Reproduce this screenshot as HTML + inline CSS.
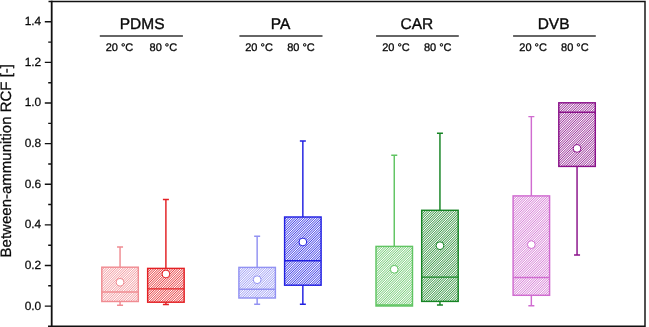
<!DOCTYPE html>
<html><head><meta charset="utf-8"><title>Between-ammunition RCF</title>
<style>html,body{margin:0;padding:0;background:#fff}svg{display:block}text{font-family:"Liberation Sans",Arial,sans-serif;fill:#0a0a0a;stroke:#0a0a0a;stroke-width:0.25px;text-rendering:geometricPrecision}</style></head>
<body>
<svg width="649" height="327" viewBox="0 0 649 327">
<rect width="649" height="327" fill="#fff"/>
<defs>
<linearGradient id="h0" gradientUnits="userSpaceOnUse" x1="0" y1="0" x2="1.2" y2="1.2" spreadMethod="repeat"><stop offset="0" stop-color="#f3a3a8"/><stop offset="0.5" stop-color="#fff"/><stop offset="1" stop-color="#f3a3a8"/></linearGradient>
<linearGradient id="h1" gradientUnits="userSpaceOnUse" x1="0" y1="0" x2="1.2" y2="1.2" spreadMethod="repeat"><stop offset="0" stop-color="#e94d50"/><stop offset="0.5" stop-color="#fff"/><stop offset="1" stop-color="#e94d50"/></linearGradient>
<linearGradient id="h2" gradientUnits="userSpaceOnUse" x1="0" y1="0" x2="1.2" y2="1.2" spreadMethod="repeat"><stop offset="0" stop-color="#a8a8f5"/><stop offset="0.5" stop-color="#fff"/><stop offset="1" stop-color="#a8a8f5"/></linearGradient>
<linearGradient id="h3" gradientUnits="userSpaceOnUse" x1="0" y1="0" x2="1.2" y2="1.2" spreadMethod="repeat"><stop offset="0" stop-color="#4e4de8"/><stop offset="0.5" stop-color="#fff"/><stop offset="1" stop-color="#4e4de8"/></linearGradient>
<linearGradient id="h4" gradientUnits="userSpaceOnUse" x1="0" y1="0" x2="1.2" y2="1.2" spreadMethod="repeat"><stop offset="0" stop-color="#80d081"/><stop offset="0.5" stop-color="#fff"/><stop offset="1" stop-color="#80d081"/></linearGradient>
<linearGradient id="h5" gradientUnits="userSpaceOnUse" x1="0" y1="0" x2="1.2" y2="1.2" spreadMethod="repeat"><stop offset="0" stop-color="#459d50"/><stop offset="0.5" stop-color="#fff"/><stop offset="1" stop-color="#459d50"/></linearGradient>
<linearGradient id="h6" gradientUnits="userSpaceOnUse" x1="0" y1="0" x2="1.2" y2="1.2" spreadMethod="repeat"><stop offset="0" stop-color="#d989d9"/><stop offset="0.5" stop-color="#fff"/><stop offset="1" stop-color="#d989d9"/></linearGradient>
<linearGradient id="h7" gradientUnits="userSpaceOnUse" x1="0" y1="0" x2="1.2" y2="1.2" spreadMethod="repeat"><stop offset="0" stop-color="#a141a1"/><stop offset="0.5" stop-color="#fff"/><stop offset="1" stop-color="#a141a1"/></linearGradient>
</defs>
<g stroke="#f08c92" stroke-width="1.45" fill="none"><path d="M120.05,267.20 V246.90 M117.05,246.90 H123.05"/><path d="M120.05,301.50 V305.30 M117.05,305.30 H123.05"/><rect x="101.80" y="267.20" width="36.50" height="34.30" fill="url(#h0)" stroke-width="1.45"/><path d="M101.80,292.00 H138.30" stroke-width="1.4"/><circle cx="120.05" cy="282.30" r="3.9" fill="#fff" stroke-width="1"/></g>
<g stroke="#e32024" stroke-width="1.45" fill="none"><path d="M165.90,268.40 V199.40 M162.90,199.40 H168.90"/><path d="M165.90,302.20 V304.40 M162.90,304.40 H168.90"/><rect x="147.65" y="268.40" width="36.50" height="33.80" fill="url(#h1)" stroke-width="1.45"/><path d="M147.65,288.90 H184.15" stroke-width="1.4"/><circle cx="165.90" cy="274.00" r="3.9" fill="#fff" stroke-width="1"/></g>
<g stroke="#9292f2" stroke-width="1.45" fill="none"><path d="M257.15,267.40 V236.20 M254.15,236.20 H260.15"/><path d="M257.15,298.00 V304.20 M254.15,304.20 H260.15"/><rect x="238.90" y="267.40" width="36.50" height="30.60" fill="url(#h2)" stroke-width="1.45"/><path d="M238.90,289.20 H275.40" stroke-width="1.4"/><circle cx="257.15" cy="279.70" r="3.9" fill="#fff" stroke-width="1"/></g>
<g stroke="#2220e2" stroke-width="1.45" fill="none"><path d="M302.85,217.00 V141.00 M299.85,141.00 H305.85"/><path d="M302.85,285.20 V304.20 M299.85,304.20 H305.85"/><rect x="284.60" y="217.00" width="36.50" height="68.20" fill="url(#h3)" stroke-width="1.45"/><path d="M284.60,260.70 H321.10" stroke-width="1.4"/><circle cx="302.85" cy="242.00" r="3.9" fill="#fff" stroke-width="1"/></g>
<g stroke="#60c462" stroke-width="1.45" fill="none"><path d="M394.25,246.40 V155.20 M391.25,155.20 H397.25"/><rect x="376.00" y="246.40" width="36.50" height="59.60" fill="url(#h4)" stroke-width="1.45"/><path d="M376.00,305.00 H412.50" stroke-width="1.4"/><circle cx="394.25" cy="269.30" r="3.9" fill="#fff" stroke-width="1"/></g>
<g stroke="#168424" stroke-width="1.45" fill="none"><path d="M439.95,210.30 V133.30 M436.95,133.30 H442.95"/><path d="M439.95,301.40 V305.00 M436.95,305.00 H442.95"/><rect x="421.70" y="210.30" width="36.50" height="91.10" fill="url(#h5)" stroke-width="1.45"/><path d="M421.70,277.10 H458.20" stroke-width="1.4"/><circle cx="439.95" cy="245.70" r="3.9" fill="#fff" stroke-width="1"/></g>
<g stroke="#d06cd0" stroke-width="1.45" fill="none"><path d="M531.35,195.90 V116.60 M528.35,116.60 H534.35"/><path d="M531.35,295.30 V305.80 M528.35,305.80 H534.35"/><rect x="513.10" y="195.90" width="36.50" height="99.40" fill="url(#h6)" stroke-width="1.45"/><path d="M513.10,277.50 H549.60" stroke-width="1.4"/><circle cx="531.35" cy="244.60" r="3.9" fill="#fff" stroke-width="1"/></g>
<g stroke="#8a128a" stroke-width="1.45" fill="none"><path d="M577.05,166.40 V254.90 M574.05,254.90 H580.05"/><rect x="558.80" y="102.80" width="36.50" height="63.60" fill="url(#h7)" stroke-width="1.45"/><path d="M558.80,112.20 H595.30" stroke-width="1.4"/><circle cx="577.05" cy="148.40" r="3.9" fill="#fff" stroke-width="1"/></g>
<g stroke="#111" stroke-width="1.6" fill="none"><path d="M48.5,1.45 H645.75 M645,1.45 V327 M48,326.3 H645.75" stroke-width="1.45"/><path d="M51.7,0.7 V327" stroke-width="1.8"/><path d="M44.8,306.10 H51.6 M48.2,285.79 H51.6 M44.8,265.49 H51.6 M48.2,245.18 H51.6 M44.8,224.87 H51.6 M48.2,204.57 H51.6 M44.8,184.26 H51.6 M48.2,163.95 H51.6 M44.8,143.64 H51.6 M48.2,123.34 H51.6 M44.8,103.03 H51.6 M48.2,82.72 H51.6 M44.8,62.42 H51.6 M48.2,42.11 H51.6 M44.8,21.80 H51.6" stroke-width="1.4"/></g>
<text x="41.2" y="309.55" font-size="11.9" text-anchor="end">0.0</text>
<text x="41.2" y="268.94" font-size="11.9" text-anchor="end">0.2</text>
<text x="41.2" y="228.32" font-size="11.9" text-anchor="end">0.4</text>
<text x="41.2" y="187.71" font-size="11.9" text-anchor="end">0.6</text>
<text x="41.2" y="147.09" font-size="11.9" text-anchor="end">0.8</text>
<text x="41.2" y="106.48" font-size="11.9" text-anchor="end">1.0</text>
<text x="41.2" y="65.87" font-size="11.9" text-anchor="end">1.2</text>
<text x="41.2" y="25.25" font-size="11.9" text-anchor="end">1.4</text>
<text transform="translate(10.5,160.7) rotate(-90)" font-size="15" text-anchor="middle">Between-ammunition RCF [-]</text>
<text x="142.10" y="28.5" style="font-size:15.5px;stroke-width:0.35px" text-anchor="middle">PDMS</text>
<path d="M99.80,36 H182.90" stroke="#333" stroke-width="1.4"/>
<text x="119.45" y="50.5" style="font-size:11px;stroke-width:0.3px" text-anchor="middle">20 °C</text>
<text x="163.40" y="50.5" style="font-size:11px;stroke-width:0.3px" text-anchor="middle">80 °C</text>
<text x="280.55" y="28.5" style="font-size:15.5px;stroke-width:0.35px" text-anchor="middle">PA</text>
<path d="M239.40,36 H322.50" stroke="#333" stroke-width="1.4"/>
<text x="259.05" y="50.5" style="font-size:11px;stroke-width:0.3px" text-anchor="middle">20 °C</text>
<text x="300.95" y="50.5" style="font-size:11px;stroke-width:0.3px" text-anchor="middle">80 °C</text>
<text x="416.90" y="28.5" style="font-size:15.5px;stroke-width:0.35px" text-anchor="middle">CAR</text>
<path d="M376.10,36 H458.80" stroke="#333" stroke-width="1.4"/>
<text x="395.95" y="50.5" style="font-size:11px;stroke-width:0.3px" text-anchor="middle">20 °C</text>
<text x="437.75" y="50.5" style="font-size:11px;stroke-width:0.3px" text-anchor="middle">80 °C</text>
<text x="553.60" y="28.5" style="font-size:15.5px;stroke-width:0.35px" text-anchor="middle">DVB</text>
<path d="M513.10,36 H595.80" stroke="#333" stroke-width="1.4"/>
<text x="533.15" y="50.5" style="font-size:11px;stroke-width:0.3px" text-anchor="middle">20 °C</text>
<text x="574.85" y="50.5" style="font-size:11px;stroke-width:0.3px" text-anchor="middle">80 °C</text>
</svg>
</body></html>
